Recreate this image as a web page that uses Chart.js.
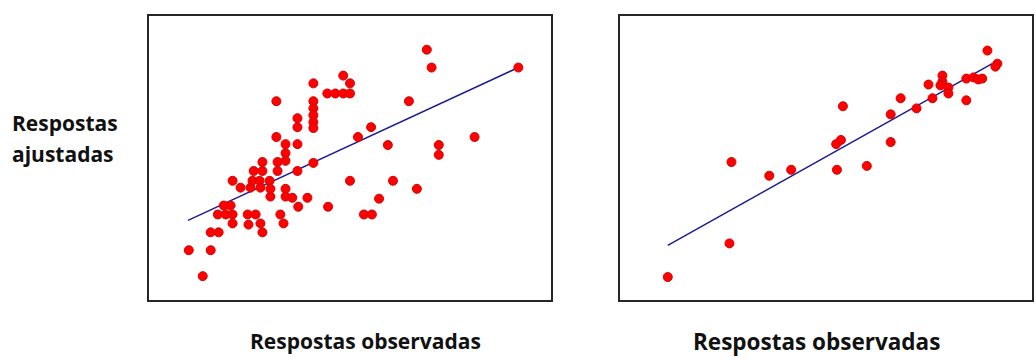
<!DOCTYPE html>
<html>
<head>
<meta charset="utf-8">
<script src="https://cdn.jsdelivr.net/npm/chart.js@4.4.0/dist/chart.umd.min.js"></script>
<style>
    body { margin: 0; background: #fff; width: 1036px; height: 360px; position: relative; overflow: hidden; font-family: "Open Sans", Lato, sans-serif; }
    .box { position: absolute; border: 2px solid #262626; box-sizing: border-box; }
    .box canvas { display: block; }
    .label { position: absolute; font-weight: bold; font-size: 21px; color: #111; line-height: 1; white-space: nowrap; }
</style>
</head>
<body>

<div class="label" style="left:12px; top:113px;">Respostas</div>
<div class="label" style="left:12px; top:144px;">ajustadas</div>

<div class="box" id="box-left" style="left:147px; top:14px; width:406px; height:288px;">
    <canvas id="chart-left"></canvas>
</div>
<div class="box" id="box-right" style="left:618px; top:14px; width:416px; height:288px;">
    <canvas id="chart-right"></canvas>
</div>

<div class="label" style="left:250px; top:331px;">Respostas observadas</div>
<div class="label" style="left:693px; top:331px; font-size:22.5px;">Respostas observadas</div>

<script>
// left panel - observed vs fitted
const leftObs = [69.8, 71, 92.8, 48.8, 41.3, 50.5, 44.8, 46.8, 48.8, 50.5,
    32, 41.3, 41.3, 41.3, 41.3, 41.3, 37.3, 37.3, 65.3, 32,
    52.5, 81.8, 34.3, 37.3, 55.8, 60, 72.8, 72.8, 34.3, 34.3,
    32.3, 32.3, 28.5, 28.5, 26.3, 41.3, 37.3, 21, 23, 25.5,
    26, 27.8, 28, 30.3, 30.5, 30.5, 34.3, 34.3, 36, 37.5,
    39.8, 45, 50.5, 61.3, 67.3, 57.8, 54, 56, 18.8, 20.5,
    17.3, 19.3, 21, 21, 24.8, 26.8, 25, 28, 28.5, 33,
    33.8, 15.5, 17.5, 10, 15.5, 13.5];
const leftFit = [84, 78, 78, 75.3, 72.7, 72.7, 69.3, 69.3, 69.3, 69.3,
    66.7, 66.7, 64.3, 62, 59.7, 57.7, 61, 58, 66.7, 54.7,
    54.7, 54.7, 52.3, 52.3, 58, 52, 52, 48.7, 49.3, 46.7,
    46.3, 43.3, 46.3, 43.3, 43.3, 46, 43.3, 40, 37.7, 37.7,
    40, 40, 37.7, 40, 37.3, 34.7, 37.3, 34.7, 34.3, 31.3,
    34.3, 31.3, 40, 40, 37.3, 34, 28.7, 28.7, 31.7, 31.7,
    28.7, 28.7, 28.7, 25.7, 28.7, 28.7, 25.3, 25.7, 22.7, 28.7,
    25.7, 22.7, 22.7, 16.7, 16.7, 8];
const leftLineX = [9.8, 92.8];
const leftLineY = [26.7, 78];

// right panel
const rightObs = [12, 27.5, 28, 37.5, 43, 54.5, 62, 54.3, 55.5, 68,
    56, 68, 70.5, 74.5, 77.5, 78.5, 81, 81, 80.5, 82.5,
    82.5, 87, 88.8, 90, 91, 87, 92.3, 94.8, 94.3];
const rightFit = [7.7, 19, 46.3, 41.7, 43.7, 43.7, 45, 52.3, 53.7, 53,
    65, 62.3, 67.7, 64.3, 72.3, 67.7, 75.3, 73.3, 72, 71.3,
    69.3, 74.3, 74.7, 74, 74.3, 67, 83.7, 79.3, 78.3];
const rightLineX = [12, 93.5];
const rightLineY = [18.3, 79.3];

function toPoints(xs, ys) {
    return xs.map((x, i) => ({ x: x, y: ys[i] }));
}

function drawPanel(canvasId, boxId, obs, fit, lineX, lineY, xMax) {
    const box = document.getElementById(boxId);
    const canvas = document.getElementById(canvasId);
    canvas.width = box.clientWidth;
    canvas.height = box.clientHeight;
    const ctx = canvas.getContext('2d');

    return new Chart(ctx, {
        type: 'scatter',
        data: {
            datasets: [{
                data: toPoints(lineX, lineY),
                showLine: true,
                borderColor: '#1c1c96',
                borderWidth: 1.5,
                pointRadius: 0,
                order: 2
            }, {
                data: toPoints(obs, fit),
                backgroundColor: '#ff0000',
                borderColor: '#d80000',
                borderWidth: 1,
                pointRadius: 4.5,
                order: 1
            }]
        },
        options: {
            responsive: false,
            animation: false,
            clip: false,
            layout: { padding: 0, autoPadding: false },
            plugins: { legend: { display: false }, tooltip: { enabled: false } },
            scales: {
                x: { type: 'linear', display: false, min: 0, max: xMax },
                y: { type: 'linear', display: false, min: 0, max: 95.3 }
            }
        }
    });
}

window.onload = function() {
    drawPanel('chart-left', 'box-left', leftObs, leftFit, leftLineX, leftLineY, 101);
    drawPanel('chart-right', 'box-right', rightObs, rightFit, rightLineX, rightLineY, 103.5);
};
</script>
</body>
</html>
